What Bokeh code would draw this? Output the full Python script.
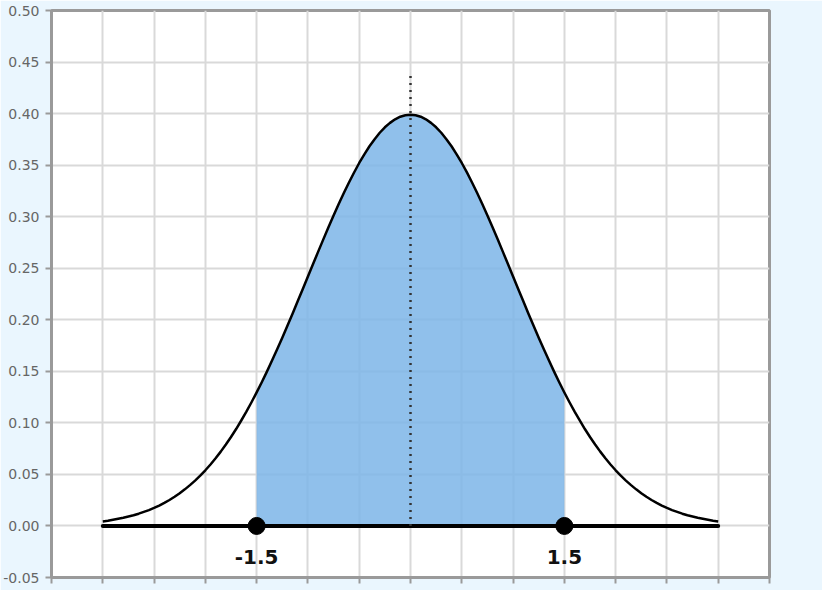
from bokeh.plotting import figure
from bokeh.models import FixedTicker, NumeralTickFormatter, Range1d, CustomJSTickFormatter
from bokeh.core.properties import value
from bokeh.embed import file_html
from bokeh.resources import INLINE

# Normal density curve, read every 0.05 from -3 to 3
xs = [round(-3 + 0.05 * i, 2) for i in range(121)]
pdf = [0.0044, 0.0051, 0.0060, 0.0069, 0.0079, 0.0091, 0.0104, 0.0119, 0.0136, 0.0154,
       0.0175, 0.0198, 0.0224, 0.0252, 0.0283, 0.0317, 0.0355, 0.0396, 0.0440, 0.0488,
       0.0540, 0.0596, 0.0656, 0.0721, 0.0790, 0.0863, 0.0940, 0.1023, 0.1109, 0.1200,
       0.1295, 0.1394, 0.1497, 0.1604, 0.1714, 0.1826, 0.1942, 0.2059, 0.2179, 0.2299,
       0.2420, 0.2541, 0.2661, 0.2780, 0.2897, 0.3011, 0.3123, 0.3230, 0.3332, 0.3429,
       0.3521, 0.3605, 0.3683, 0.3752, 0.3814, 0.3867, 0.3910, 0.3945, 0.3970, 0.3984,
       0.3989,
       0.3984, 0.3970, 0.3945, 0.3910, 0.3867, 0.3814, 0.3752, 0.3683, 0.3605, 0.3521,
       0.3429, 0.3332, 0.3230, 0.3123, 0.3011, 0.2897, 0.2780, 0.2661, 0.2541, 0.2420,
       0.2299, 0.2179, 0.2059, 0.1942, 0.1826, 0.1714, 0.1604, 0.1497, 0.1394, 0.1295,
       0.1200, 0.1109, 0.1023, 0.0940, 0.0863, 0.0790, 0.0721, 0.0656, 0.0596, 0.0540,
       0.0488, 0.0440, 0.0396, 0.0355, 0.0317, 0.0283, 0.0252, 0.0224, 0.0198, 0.0175,
       0.0154, 0.0136, 0.0119, 0.0104, 0.0091, 0.0079, 0.0069, 0.0060, 0.0051, 0.0044]

shade_lo = -1.5
shade_hi = 1.5
mean_x = 0.0
mean_line_top = 0.44
marker_x = [-1.5, 1.5]
marker_y = [0.0, 0.0]
marker_labels = ["-1.5", "1.5"]
baseline_x = [-3.0, 3.0]
baseline_y = [0.0, 0.0]

y_ticks = [-0.05, 0.0, 0.05, 0.10, 0.15, 0.20, 0.25, 0.30, 0.35, 0.40, 0.45, 0.50]
x_ticks = [-3.5 + 0.5 * i for i in range(15)]

shade_x = [x for x in xs if shade_lo - 1e-9 <= x <= shade_hi + 1e-9]
shade_y = [y for x, y in zip(xs, pdf) if shade_lo - 1e-9 <= x <= shade_hi + 1e-9]

BG = "#eaf6fe"
AXIS = "#9a9a9a"
GRID = "#d9d9d9"

p = figure(width=822, height=590, output_backend="svg", toolbar_location=None,
           x_range=Range1d(-3.5, 3.5), y_range=Range1d(-0.05, 0.50),
           min_border_left=46, min_border_right=53, min_border_top=10, min_border_bottom=13)
p.background_fill_color = "white"
p.border_fill_color = BG
p.outline_line_color = AXIS
p.outline_line_width = 3

p.yaxis.ticker = FixedTicker(ticks=y_ticks)
p.yaxis.formatter = NumeralTickFormatter(format="0.00")
p.xaxis.ticker = FixedTicker(ticks=x_ticks)
p.xaxis.formatter = CustomJSTickFormatter(code="return '';")
p.xaxis.major_label_standoff = 0
for ax in (p.xaxis, p.yaxis):
    ax.axis_line_color = AXIS
    ax.axis_line_width = 3
    ax.major_tick_line_color = AXIS
    ax.major_tick_line_width = 2
    ax.major_tick_out = 6
    ax.major_tick_in = 0
    ax.minor_tick_line_color = None
p.yaxis.major_label_text_font = "DejaVu Sans"
p.yaxis.major_label_text_font_size = "14px"
p.yaxis.major_label_text_color = "#666666"
p.yaxis.major_label_standoff = 6

p.xgrid.ticker = FixedTicker(ticks=x_ticks)
p.ygrid.ticker = FixedTicker(ticks=y_ticks)
p.grid.grid_line_color = GRID
p.grid.grid_line_width = 2

p.varea(x=shade_x, y1=[0] * len(shade_x), y2=shade_y, fill_color="#7cb5e7", fill_alpha=0.85)
p.line(xs, pdf, line_color="black", line_width=2.5, line_join="round")
p.line(baseline_x, baseline_y, line_color="black", line_width=4, line_cap="round")
p.segment(x0=[mean_x], y0=[0.0], x1=[mean_x], y1=[mean_line_top],
          line_color="#333333", line_width=2.5, line_dash="2 5")
p.scatter(marker_x, marker_y, size=17, fill_color="black", line_color="black")
p.text(x=marker_x, y=marker_y, text=marker_labels, text_align="center", text_baseline="middle",
       y_offset=31, text_font=value("DejaVu Sans"), text_font_style="bold",
       text_font_size="20px", text_color="#111111")

html = file_html(p, INLINE)
html = html.replace("<body>", '<body style="background:%s;">' % BG, 1)
open("out.html", "w").write(html)
